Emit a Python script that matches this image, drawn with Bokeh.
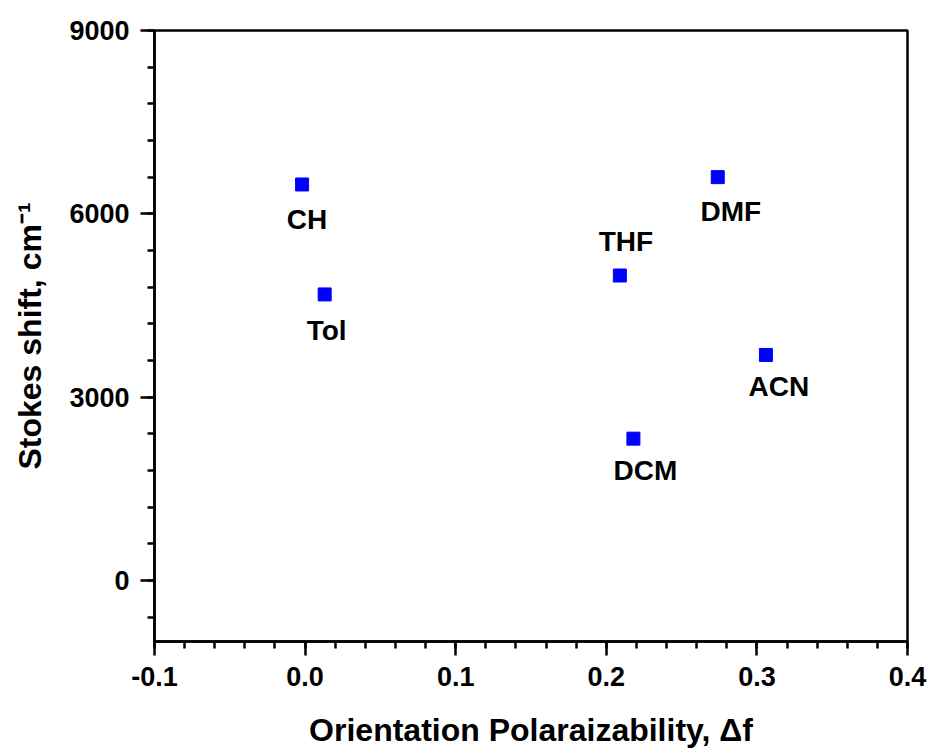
from bokeh.plotting import figure
from bokeh.models import ColumnDataSource, LinearAxis, FixedTicker, Range1d
from bokeh.core.properties import value
from bokeh.embed import file_html
from bokeh.resources import INLINE

solvents = ["CH", "Tol", "THF", "DCM", "DMF", "ACN"]
delta_f = [-0.002, 0.013, 0.209, 0.218, 0.274, 0.306]
stokes_shift = [6480, 4680, 4990, 2320, 6600, 3690]

x_ticks = [-0.1, 0.0, 0.1, 0.2, 0.3, 0.4]
x_tick_labels = ["-0.1", "0.0", "0.1", "0.2", "0.3", "0.4"]
y_ticks = [0, 3000, 6000, 9000]
y_tick_labels = ["0", "3000", "6000", "9000"]

# label placement (style only, screen pixels; positive dy = downwards)
label_dx = [5, 2, 6, 12, 13, 13]
label_dy = [35, 36, -34, 32, 34, 32]

FONT = "Liberation Sans"

p = figure(width=930, height=748, output_backend="svg", toolbar_location=None,
           x_range=Range1d(-0.1, 0.4), y_range=Range1d(-1000, 9000),
           min_border_left=154, min_border_right=23, min_border_top=30, min_border_bottom=107,
           x_axis_location=None, y_axis_location=None)
p.frame_width = 753
p.frame_height = 611
p.xgrid.visible = False
p.ygrid.visible = False
p.outline_line_color = "black"
p.outline_line_width = 2.5
p.background_fill_color = "white"
p.border_fill_color = "white"

x_minor = [round(-0.1 + 0.02 * i, 4) for i in range(26)]
y_minor = [-600 + 600 * i for i in range(17)]

def style(ax):
    ax.axis_line_width = 2.5
    ax.axis_line_color = "black"
    ax.major_tick_line_width = 2.5
    ax.minor_tick_line_width = 2.5
    ax.major_tick_out = 14
    ax.major_tick_in = 0
    ax.minor_tick_out = 7
    ax.minor_tick_in = 0
    ax.major_label_text_font = FONT
    ax.major_label_text_font_style = "bold"
    ax.major_label_text_font_size = "27px"
    ax.major_label_text_color = "black"
    ax.axis_label_text_font = FONT
    ax.axis_label_text_font_style = "bold"
    ax.axis_label_text_font_size = "32px"
    ax.axis_label_text_color = "black"

xb = LinearAxis(ticker=FixedTicker(ticks=x_ticks, minor_ticks=x_minor),
                axis_label="Orientation Polaraizability, \u0394f")
style(xb)
xb.major_label_overrides = {t: s for t, s in zip(x_ticks, x_tick_labels)}
xb.major_label_standoff = 11
xb.axis_label_standoff = 23
p.add_layout(xb, "below")

yl = LinearAxis(ticker=FixedTicker(ticks=y_ticks, minor_ticks=y_minor),
                axis_label="Stokes shift, cm\u207b\u00b9")
style(yl)
yl.major_label_overrides = {t: s for t, s in zip(y_ticks, y_tick_labels)}
yl.major_label_standoff = 11
yl.axis_label_standoff = 18
p.add_layout(yl, "left")

src = ColumnDataSource(dict(x=delta_f, y=stokes_shift, name=solvents,
                            dx=label_dx, dy=label_dy))
p.scatter("x", "y", source=src, marker="square", size=13, fill_color="#0000FF",
          line_color="#0000FF")
p.text("x", "y", text="name", source=src, x_offset="dx", y_offset="dy",
       text_align="center", text_baseline="middle",
       text_font=value(FONT), text_font_style="bold", text_font_size="28px",
       text_color="black")

open("out.html", "w").write(file_html(p, INLINE))
